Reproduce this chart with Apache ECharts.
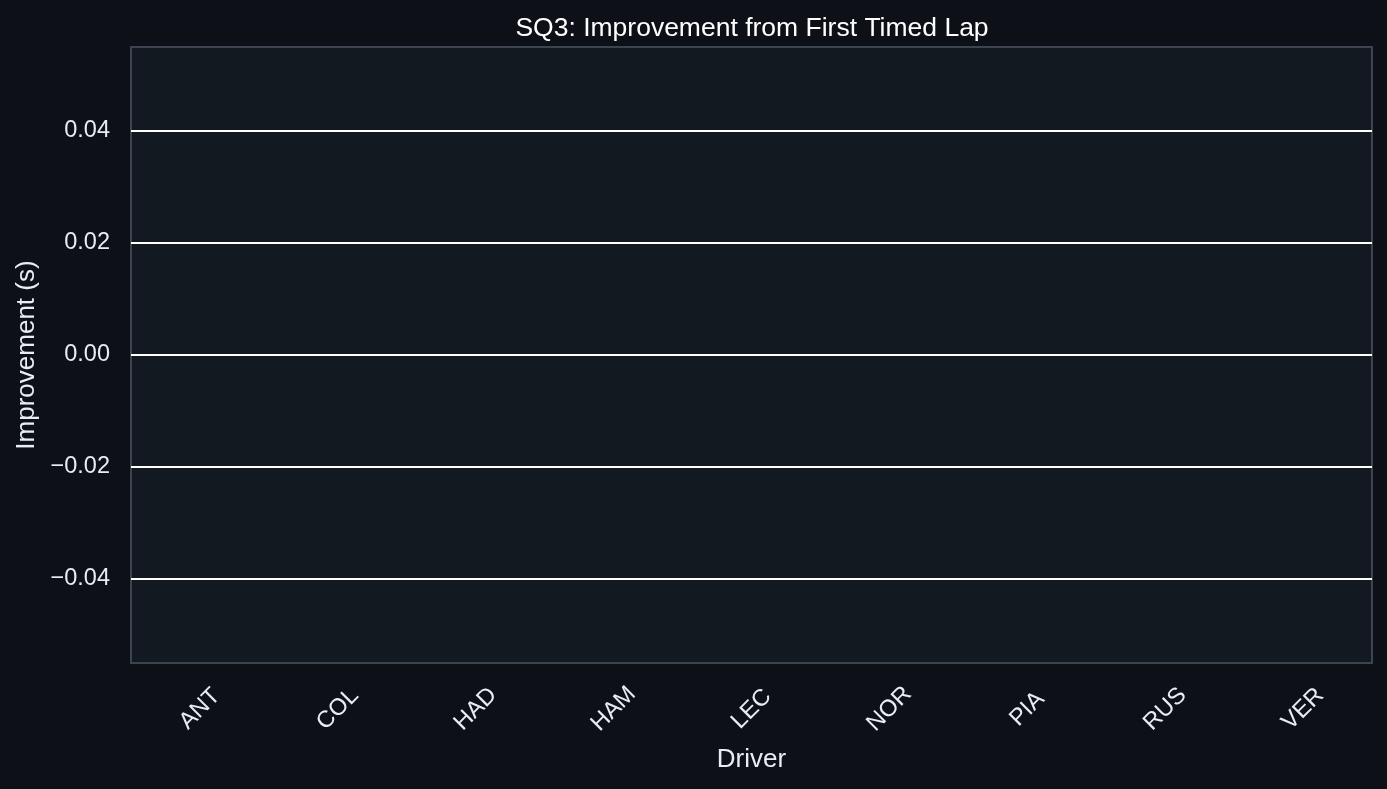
<!DOCTYPE html>
<html>
<head>
<meta charset="utf-8">
<script src="https://cdn.jsdelivr.net/npm/echarts@6/dist/echarts.min.js"></script>
<style>
html,body{margin:0;padding:0;background:#0d1117;}
#chart{width:1387px;height:789px;}
</style>
</head>
<body>
<div id="chart"></div>
<script>
const drivers = ['ANT','COL','HAD','HAM','LEC','NOR','PIA','RUS','VER'];
const improvement = [0,0,0,0,0,0,0,0,0];
const yTicks = [-0.04,-0.02,0,0.02,0.04];
const yMin = -0.055, yMax = 0.055;

const chart = echarts.init(document.getElementById('chart'), null, {renderer:'canvas'});
const font = '"Liberation Sans", Arial, Helvetica, sans-serif';
chart.setOption({
  backgroundColor:'#0d1117',
  animation:false,
  title:{text:'SQ3: Improvement from First Timed Lap', left:747, top:10, textAlign:'center',
    textStyle:{color:'#ffffff', fontSize:26.5, fontWeight:'normal', fontFamily:font}},
  grid:{left:131, right:15, top:47, bottom:126, show:true, backgroundColor:'#131920', borderColor:'#3d4451', borderWidth:2},
  xAxis:{type:'category', data:drivers,
    axisLine:{show:false}, axisTick:{show:false}, splitLine:{show:false},
    axisLabel:{color:'#e6edf3', fontSize:23.5, fontFamily:font, rotate:45, align:'center', verticalAlign:'middle', margin:46},
    name:'Driver', nameLocation:'middle', nameGap:84,
    nameTextStyle:{color:'#e6edf3', fontSize:26, fontFamily:font}},
  yAxis:{type:'value', min:yMin, max:yMax,
    axisLine:{show:false},
    axisTick:{show:false, customValues:yTicks},
    axisLabel:{color:'#e6edf3', fontSize:23.5, fontFamily:font, margin:21, customValues:yTicks,
      formatter:v=>{const s=Math.abs(v).toFixed(2); return (v< -1e-9?'\u2212':'')+s;}},
    splitLine:{show:false},
    name:'Improvement (s)', nameLocation:'middle', nameGap:91, nameRotate:90,
    nameTextStyle:{color:'#e6edf3', fontSize:26, fontFamily:font}},
  series:[{type:'bar', data:improvement, barWidth:'80%',
    itemStyle:{color:'#2a313b', borderColor:'#6e7681', borderWidth:1},
    z:2,
    markLine:{silent:true, symbol:'none', label:{show:false}, animation:false,
      lineStyle:{color:'#ffffff', width:2, type:'solid'},
      data:yTicks.map(v=>({yAxis:v}))}
  }]
});
</script>
</body>
</html>
